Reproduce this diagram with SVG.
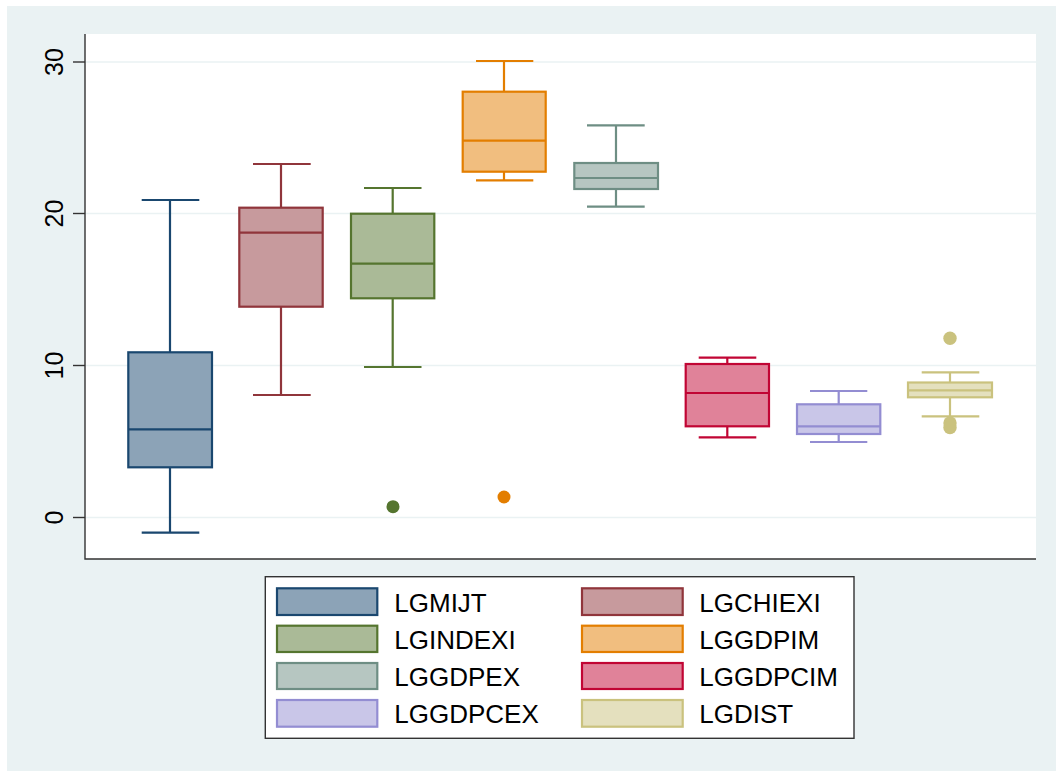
<svg xmlns="http://www.w3.org/2000/svg" width="1056" height="771" viewBox="0 0 1056 771">
<style>
.grid{stroke:#EAF2F3;stroke-width:1.6}
.axis{stroke:#333;stroke-width:1.4;fill:none}
.tick{stroke:#333;stroke-width:1.4}
.ylab{font-family:"Liberation Sans",Arial,sans-serif;font-size:25px;fill:#000;text-anchor:middle}
.leg{font-family:"Liberation Sans",Arial,sans-serif;font-size:26px;fill:#000}
.b{stroke-width:2.2}
.w{stroke-width:2.2;fill:none}
</style>
<rect x="0" y="0" width="1056" height="771" fill="#ffffff"/>
<rect x="7" y="6" width="1049" height="765" fill="#EAF2F3"/>
<rect x="85" y="34" width="951" height="525" fill="#ffffff"/>
<g id="grid">
<line class="grid" x1="85" y1="62" x2="1036" y2="62"/>
<line class="grid" x1="85" y1="213.5" x2="1036" y2="213.5"/>
<line class="grid" x1="85" y1="365.5" x2="1036" y2="365.5"/>
<line class="grid" x1="85" y1="517.5" x2="1036" y2="517.5"/>
</g>
<g id="axes">
<path class="axis" d="M85,34 V559 H1036"/>
<line class="tick" x1="73" y1="62" x2="85" y2="62"/>
<line class="tick" x1="73" y1="213.5" x2="85" y2="213.5"/>
<line class="tick" x1="73" y1="365.5" x2="85" y2="365.5"/>
<line class="tick" x1="73" y1="517.5" x2="85" y2="517.5"/>
<text class="ylab" transform="translate(63,62) rotate(-90)">30</text>
<text class="ylab" transform="translate(63,213.5) rotate(-90)">20</text>
<text class="ylab" transform="translate(63,365.5) rotate(-90)">10</text>
<text class="ylab" transform="translate(63,517.5) rotate(-90)">0</text>
</g>
<g id="box-LGMIJT" stroke="#1A476F">
<path class="w" d="M170,200 V352.3 M170,467.3 V532.7 M141.7,200 H199.3 M141.7,532.7 H199.3"/>
<rect class="b" x="128.3" y="352.3" width="83.7" height="115" fill="#8CA3B7"/>
<line class="w" x1="128.3" y1="429.3" x2="212" y2="429.3"/>
</g>
<g id="box-LGCHIEXI" stroke="#90353B">
<path class="w" d="M281,164 V207.7 M281,306.7 V395 M253,164 H310.7 M253,395 H310.7"/>
<rect class="b" x="239.3" y="207.7" width="83.4" height="99" fill="#C79A9D"/>
<line class="w" x1="239.3" y1="232.7" x2="322.7" y2="232.7"/>
</g>
<g id="box-LGINDEXI" stroke="#55752F">
<path class="w" d="M392.7,188 V213.7 M392.7,298.3 V367 M364,188 H421.5 M364,367 H421.5"/>
<rect class="b" x="351" y="213.7" width="83.3" height="84.6" fill="#AABA97"/>
<line class="w" x1="351" y1="263.7" x2="434.3" y2="263.7"/>
<circle cx="393" cy="506.7" r="6.5" fill="#55752F" stroke="none"/>
</g>
<g id="box-LGGDPIM" stroke="#E37E00">
<path class="w" d="M504,61 V91.7 M504,171.7 V180.3 M476,61 H533.3 M476,180.3 H533.3"/>
<rect class="b" x="462.7" y="91.7" width="83" height="80" fill="#F1BE7F"/>
<line class="w" x1="462.7" y1="140.7" x2="545.7" y2="140.7"/>
<circle cx="504" cy="497" r="6.5" fill="#E37E00" stroke="none"/>
</g>
<g id="box-LGGDPEX" stroke="#6E8E84">
<path class="w" d="M616,125.3 V163 M616,189 V206.7 M587,125.3 H644.7 M587,206.7 H644.7"/>
<rect class="b" x="574.3" y="163" width="83.7" height="26" fill="#B6C6C1"/>
<line class="w" x1="574.3" y1="178" x2="658" y2="178"/>
</g>
<g id="box-LGGDPCIM" stroke="#C10534">
<path class="w" d="M727.3,357.7 V364 M727.3,426.3 V437.3 M698.7,357.7 H756.3 M698.7,437.3 H756.3"/>
<rect class="b" x="685.7" y="364" width="83.3" height="62.3" fill="#E08299"/>
<line class="w" x1="685.7" y1="393" x2="769" y2="393"/>
</g>
<g id="box-LGGDPCEX" stroke="#938DD2">
<path class="w" d="M838.7,391 V404.3 M838.7,434 V442 M810,391 H867.3 M810,442 H867.3"/>
<rect class="b" x="797" y="404.3" width="83.3" height="29.7" fill="#C9C6E8"/>
<line class="w" x1="797" y1="426.3" x2="880.3" y2="426.3"/>
</g>
<g id="box-LGDIST" stroke="#CAC27E">
<path class="w" d="M950,372.3 V382.5 M950,397.3 V416.3 M921.7,372.3 H979.3 M921.7,416.3 H979.3"/>
<rect class="b" x="908" y="382.5" width="84" height="14.8" fill="#E4E0BE"/>
<line class="w" x1="908" y1="390.3" x2="992" y2="390.3"/>
<circle cx="950" cy="338.3" r="6.7" fill="#CAC27E" stroke="none"/>
<circle cx="950" cy="423" r="6.7" fill="#CAC27E" stroke="none"/>
<circle cx="950" cy="427.5" r="6.7" fill="#CAC27E" stroke="none"/>
</g>
<g id="legend">
<rect x="265.3" y="576.7" width="588.7" height="161.6" fill="#ffffff" stroke="#333" stroke-width="1.4"/>
<rect class="b" x="277" y="588.3" width="100.3" height="26.7" fill="#8CA3B7" stroke="#1A476F"/>
<text class="leg" x="394.3" y="612.3">LGMIJT</text>
<rect class="b" x="277" y="625.7" width="100.3" height="26.3" fill="#AABA97" stroke="#55752F"/>
<text class="leg" x="394.3" y="649.3">LGINDEXI</text>
<rect class="b" x="277" y="663" width="100.3" height="26" fill="#B6C6C1" stroke="#6E8E84"/>
<text class="leg" x="394.3" y="686.3">LGGDPEX</text>
<rect class="b" x="277" y="700" width="100.3" height="26.7" fill="#C9C6E8" stroke="#938DD2"/>
<text class="leg" x="394.3" y="723.3">LGGDPCEX</text>
<rect class="b" x="582" y="588.3" width="100.7" height="26.7" fill="#C79A9D" stroke="#90353B"/>
<text class="leg" x="699.3" y="612.3">LGCHIEXI</text>
<rect class="b" x="582" y="625.7" width="100.7" height="26.3" fill="#F1BE7F" stroke="#E37E00"/>
<text class="leg" x="699.3" y="649.3">LGGDPIM</text>
<rect class="b" x="582" y="663" width="100.7" height="26" fill="#E08299" stroke="#C10534"/>
<text class="leg" x="699.3" y="686.3">LGGDPCIM</text>
<rect class="b" x="582" y="700" width="100.7" height="26.7" fill="#E4E0BE" stroke="#CAC27E"/>
<text class="leg" x="699.3" y="723.3">LGDIST</text>
</g>
</svg>
